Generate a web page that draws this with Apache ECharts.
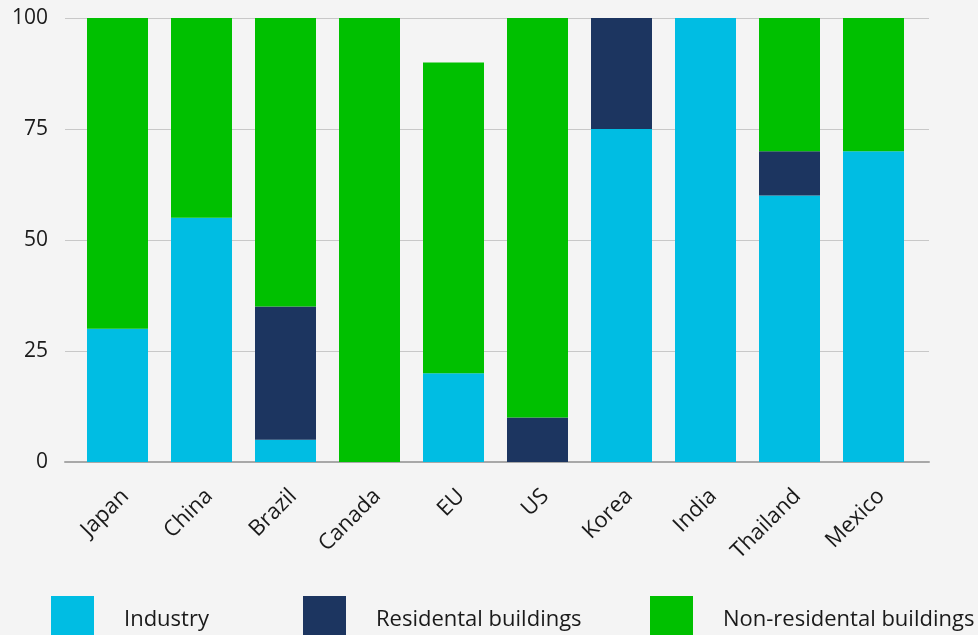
<!DOCTYPE html>
<html><head><meta charset="utf-8">
<script src="https://cdn.jsdelivr.net/npm/echarts@6/dist/echarts.min.js"></script>
<style>html,body{margin:0;padding:0;background:#f4f4f4;}#c{width:978px;height:635px;}</style>
</head><body><div id="c"></div>
<script>
const categories = ['Japan','China','Brazil','Canada','EU','US','Korea','India','Thailand','Mexico'];
const industry = [30,55,5,0,20,0,75,100,60,70];
const residential = [0,0,30,0,0,10,25,0,10,0];
const nonResidential = [70,45,65,100,70,90,0,0,30,30];
const yTicks = [0,25,50,75,100];

const FONT = 'Open Sans';
const TXT = '#1a1a1a';
const chart = echarts.init(document.getElementById('c'), null, {renderer:'canvas'});
const legendBase = {
  orient:'horizontal', top:596, padding:0, itemWidth:43, itemHeight:48, icon:'rect',
  textStyle:{fontFamily:FONT, fontSize:22, color:TXT, padding:[0,0,0,25]}
};
chart.setOption({
  backgroundColor:'#f4f4f4',
  animation:false,
  textStyle:{fontFamily:FONT},
  grid:[
    {left:65, right:49, top:18, bottom:173},
    {left:75.5, right:62.5, top:18, bottom:173}
  ],
  legend:[
    Object.assign({}, legendBase, {left:51, data:['Industry']}),
    Object.assign({}, legendBase, {left:303, data:['Residental buildings']}),
    Object.assign({}, legendBase, {left:650, data:['Non-residental buildings']})
  ],
  xAxis:[
    {type:'value', gridIndex:0, min:0, max:1, axisLine:{show:true, lineStyle:{color:'#a8a8a8', width:2}},
     axisTick:{show:false}, axisLabel:{show:false}, splitLine:{show:false}},
    {type:'category', gridIndex:1, data:categories, axisLine:{show:false}, axisTick:{show:false},
     axisLabel:{rotate:45, interval:0, margin:23, align:'right', verticalAlign:'top', fontFamily:FONT, fontSize:22, color:TXT}}
  ],
  yAxis:[
    {type:'value', gridIndex:0, min:yTicks[0], max:yTicks[yTicks.length-1], interval:25,
     axisLine:{show:false}, axisTick:{show:false},
     axisLabel:{margin:17, fontFamily:FONT, fontSize:21, color:TXT},
     splitLine:{lineStyle:{color:'#c8c8c8', width:1}}},
    {type:'value', gridIndex:1, min:0, max:100, show:false, splitLine:{show:false}}
  ],
  series:[
    {name:'Industry', type:'bar', stack:'a', xAxisIndex:1, yAxisIndex:1, data:industry, barWidth:61, itemStyle:{color:'#00bde3'}},
    {name:'Residental buildings', type:'bar', stack:'a', xAxisIndex:1, yAxisIndex:1, data:residential, barWidth:61, itemStyle:{color:'#1c3560'}},
    {name:'Non-residental buildings', type:'bar', stack:'a', xAxisIndex:1, yAxisIndex:1, data:nonResidential, barWidth:61, itemStyle:{color:'#00c000'}}
  ]
});
</script></body></html>
